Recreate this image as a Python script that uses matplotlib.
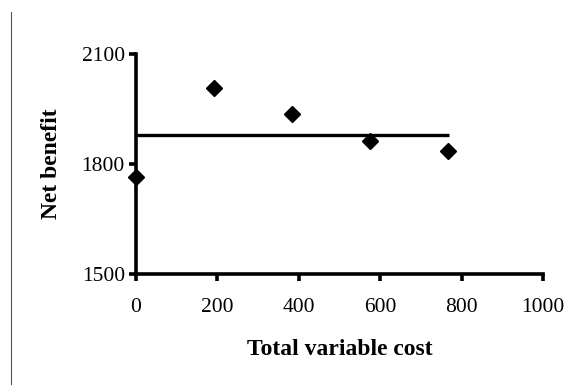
import matplotlib.pyplot as plt
from matplotlib.lines import Line2D

# data
total_variable_cost = [0, 192, 383, 575, 766]
net_benefit = [1765, 2007, 1936, 1863, 1836]
mean_line_x = [0, 770]
mean_line_y = [1880, 1880]
x_ticks = [0, 200, 400, 600, 800, 1000]
y_ticks = [1500, 1800, 2100]

plt.rcParams["font.family"] = ["Liberation Serif", "DejaVu Serif"]

fig = plt.figure(figsize=(5.8, 3.88), dpi=100)
ax = fig.add_axes([0.2345, 0.2938, 0.7017, 0.5670])

ax.plot(mean_line_x, mean_line_y, color="black", linewidth=2.4, solid_capstyle="butt")
ax.plot(total_variable_cost, net_benefit, linestyle="none", marker="D",
        markersize=8.5, color="black", clip_on=False, zorder=5)

ax.set_xlim(0, 1000)
ax.set_ylim(1500, 2100)
ax.set_xticks(x_ticks)
ax.set_yticks(y_ticks)

for side in ["top", "right"]:
    ax.spines[side].set_visible(False)
for side in ["left", "bottom"]:
    ax.spines[side].set_linewidth(2.6)
    ax.spines[side].set_capstyle("projecting")

ax.tick_params(axis="both", direction="out", length=5, width=2.6,
               labelsize=15.5, color="black")
ax.tick_params(axis="x", pad=12)
ax.tick_params(axis="y", pad=3)

ax.set_xlabel("Total variable cost", fontsize=17, fontweight="bold", labelpad=16)
ax.set_ylabel("Net benefit", fontsize=17, fontweight="bold", labelpad=14)

# thin page border at the left of the scan
fig.add_artist(Line2D([11 / 580, 11 / 580], [1 - 12 / 388, 1 - 384 / 388],
                      color="#555555", linewidth=0.8))

fig.savefig("out.png", dpi=100)
